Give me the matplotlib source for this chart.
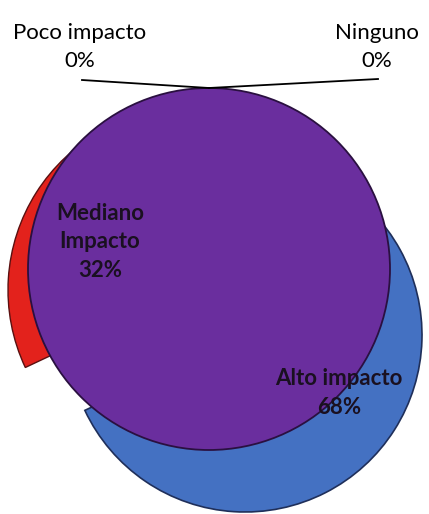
import matplotlib.pyplot as plt
from matplotlib.patches import Wedge, Circle

# pie data
labels = ["Alto impacto", "Mediano\nImpacto", "Poco impacto", "Ninguno"]
values = [68, 32, 0, 0]
colors = ["#4471c2", "#e3221c", "#6a2e9e", "#6a2e9e"]

W, H = 429, 514

fig = plt.figure(figsize=(W / 100, H / 100), dpi=100)
ax = fig.add_axes([0, 0, 1, 1])
ax.set_xlim(0, W)
ax.set_ylim(0, H)
ax.set_aspect("equal")
ax.axis("off")


def py(y):
    # pixel row -> data y
    return H - y


total = sum(values)
fracs = [v / total for v in values]

# slices go clockwise from 12 o'clock, like the office pie
start = 90.0
angles = []
for f in fracs:
    end = start - 360 * f
    angles.append((end, start))
    start = end

# back layer: Alto slice (blue), shifted down-right
t1, t2 = angles[0]
ax.add_patch(Wedge((245, py(335)), 177, t1, t2, facecolor=colors[0],
                   edgecolor="#1f2f5a", lw=1.2, zorder=1))

# Mediano slice side (red), shifted left and down
t1, t2 = angles[1]
ax.add_patch(Wedge((190, py(290)), 182, t1, t2, facecolor=colors[1],
                   edgecolor="#5a1010", lw=1.0, zorder=2))

# Mediano top face (purple disc)
ax.add_patch(Circle((209, py(269)), 181, facecolor=colors[2],
                    edgecolor="#2a1040", lw=1.3, zorder=3))

# leader lines for the two 0% slices
top = (209, py(88))
ax.plot([82, top[0]], [py(80), top[1]], color="black", lw=1.3, zorder=4)
ax.plot([top[0], 378], [top[1], py(79)], color="black", lw=1.3, zorder=4)

font = ["Lato", "DejaVu Sans"]
ax.text(80, py(47), "%s\n%d%%" % (labels[2], values[2]), ha="center",
        va="center", fontsize=16, family=font, linespacing=1.5)
ax.text(377, py(47), "%s\n%d%%" % (labels[3], values[3]), ha="center",
        va="center", fontsize=16, family=font, linespacing=1.5)
ax.text(100, py(242), "%s\n%d%%" % (labels[1], values[1]), ha="center",
        va="center", fontsize=16, family=font, fontweight="bold",
        color="#1a1020", linespacing=1.45, zorder=5)
ax.text(339, py(393), "%s\n%d%%" % (labels[0], values[0]), ha="center",
        va="center", fontsize=16, family=font, fontweight="bold",
        color="#1a1020", linespacing=1.45, zorder=5)

fig.savefig("out.png", dpi=100)
